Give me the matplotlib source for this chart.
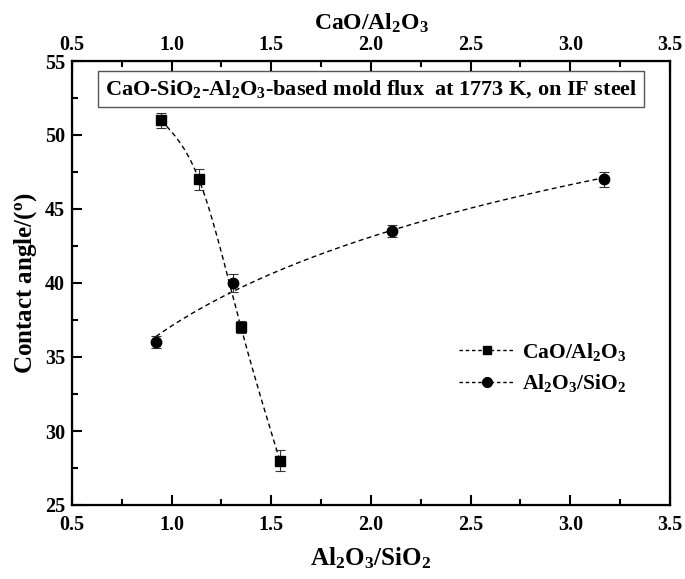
import numpy as np
import matplotlib
matplotlib.use("Agg")
import matplotlib.pyplot as plt
from matplotlib.ticker import MultipleLocator

plt.rcParams['font.family'] = ['Liberation Serif', 'DejaVu Serif']
plt.rcParams['font.weight'] = 'bold'
plt.rcParams['mathtext.fontset'] = 'custom'
plt.rcParams['mathtext.rm'] = 'Liberation Serif:bold'
plt.rcParams['mathtext.bf'] = 'Liberation Serif:bold'
plt.rcParams['mathtext.it'] = 'Liberation Serif:bold'
plt.rcParams['mathtext.default'] = 'bf'

# Data
cao_x = [0.946, 1.137, 1.348, 1.543]
cao_y = [51.0, 47.0, 37.0, 28.0]
cao_err = [0.5, 0.7, 0.4, 0.7]

al_x = [0.921, 1.308, 2.105, 3.17]
al_y = [36.0, 40.0, 43.5, 47.0]
al_err = [0.4, 0.6, 0.4, 0.5]

x_ticks = [0.5, 1.0, 1.5, 2.0, 2.5, 3.0, 3.5]
y_ticks = [25, 30, 35, 40, 45, 50, 55]


def natural_spline(x, y, xs):
    x = np.asarray(x, float); y = np.asarray(y, float)
    n = len(x); h = np.diff(x)
    A = np.zeros((n, n)); r = np.zeros(n)
    A[0, 0] = 1; A[-1, -1] = 1
    for i in range(1, n - 1):
        A[i, i - 1] = h[i - 1]; A[i, i] = 2 * (h[i - 1] + h[i]); A[i, i + 1] = h[i]
        r[i] = 6 * ((y[i + 1] - y[i]) / h[i] - (y[i] - y[i - 1]) / h[i - 1])
    M = np.linalg.solve(A, r)
    idx = np.clip(np.searchsorted(x, xs) - 1, 0, n - 2)
    x0 = x[idx]; x1 = x[idx + 1]; hh = h[idx]
    return (M[idx] * (x1 - xs)**3 / (6 * hh) + M[idx + 1] * (xs - x0)**3 / (6 * hh)
            + (y[idx] / hh - M[idx] * hh / 6) * (x1 - xs)
            + (y[idx + 1] / hh - M[idx + 1] * hh / 6) * (xs - x0))


fig = plt.figure(figsize=(6.85, 5.79), dpi=100)
ax = fig.add_axes([72/685, 1-505/579, (670-72)/685, (505-61)/579])

# smooth dashed curves through the data
xs1 = np.linspace(cao_x[0], cao_x[-1], 200)
ax.plot(xs1, natural_spline(cao_x, cao_y, xs1), color='black', lw=1.0, ls=(0, (3.5, 2.5)))
b, a = np.polyfit(np.log(al_x), al_y, 1)
xs2 = np.linspace(al_x[0], al_x[-1], 300)
ax.plot(xs2, a + b * np.log(xs2), color='black', lw=1.0, ls=(0, (3.5, 2.5)))

ax.errorbar(cao_x, cao_y, yerr=cao_err, fmt='s', color='black', ms=7,
            capsize=3.5, elinewidth=0.8, capthick=0.8, ecolor='#333333')
ax.errorbar(al_x, al_y, yerr=al_err, fmt='o', color='black', ms=7.5,
            capsize=3.5, elinewidth=0.8, capthick=0.8, ecolor='#333333')

# legend handles
h1, = ax.plot([], [], marker='s', color='black', ms=6, lw=1.0, ls=(0, (2.5, 2)))
h2, = ax.plot([], [], marker='o', color='black', ms=7, lw=1.0, ls=(0, (2.5, 2)))
leg = ax.legend([h1, h2], ['CaO/Al$_2$O$_3$', 'Al$_2$O$_3$/SiO$_2$'],
                loc='center left', bbox_to_anchor=(0.615, 0.31), frameon=False,
                fontsize=15.5, handlelength=2.6, handletextpad=0.3, labelspacing=0.45)

ax.set_xlim(0.5, 3.5)
ax.set_ylim(25, 55)
ax.set_xticks(x_ticks)
ax.set_yticks(y_ticks)
ax.set_xticklabels([f'{v:.1f}' for v in x_ticks])
ax.set_yticklabels([str(v) for v in y_ticks])
ax.xaxis.set_minor_locator(MultipleLocator(0.25))
ax.yaxis.set_minor_locator(MultipleLocator(2.5))
ax.tick_params(which='major', direction='in', length=7, width=1.5, labelsize=14.5)
ax.tick_params(axis='x', which='major', pad=7)
ax.tick_params(axis='y', which='major', pad=5)
ax.tick_params(which='minor', direction='in', length=4, width=1.5)
for s in ax.spines.values():
    s.set_linewidth(1.6)

ax.set_xlabel('Al$_2$O$_3$/SiO$_2$', fontsize=18, fontweight='bold', labelpad=8)
ax.set_ylabel('Contact angle/($^{o}$)', fontsize=18, fontweight='bold', labelpad=4)

top = ax.twiny()
top.set_xlim(0.5, 3.5)
top.set_xticks(x_ticks)
top.set_xticklabels([f'{v:.1f}' for v in x_ticks])
top.xaxis.set_minor_locator(MultipleLocator(0.25))
top.tick_params(which='major', direction='in', length=7, width=1.5, labelsize=14.5, pad=4)
top.tick_params(which='minor', direction='in', length=4, width=1.5)
top.set_xlabel('CaO/Al$_2$O$_3$', fontsize=17, fontweight='bold', labelpad=4)

ax.text(0.5, 0.937, 'CaO-SiO$_2$-Al$_2$O$_3$-based mold flux  at 1773 K, on IF steel',
        transform=ax.transAxes, ha='center', va='center', fontsize=16,
        fontweight='bold',
        bbox=dict(boxstyle='square,pad=0.3', facecolor='white', edgecolor='#555555', lw=1.0))

fig.savefig('out.png', dpi=100)
